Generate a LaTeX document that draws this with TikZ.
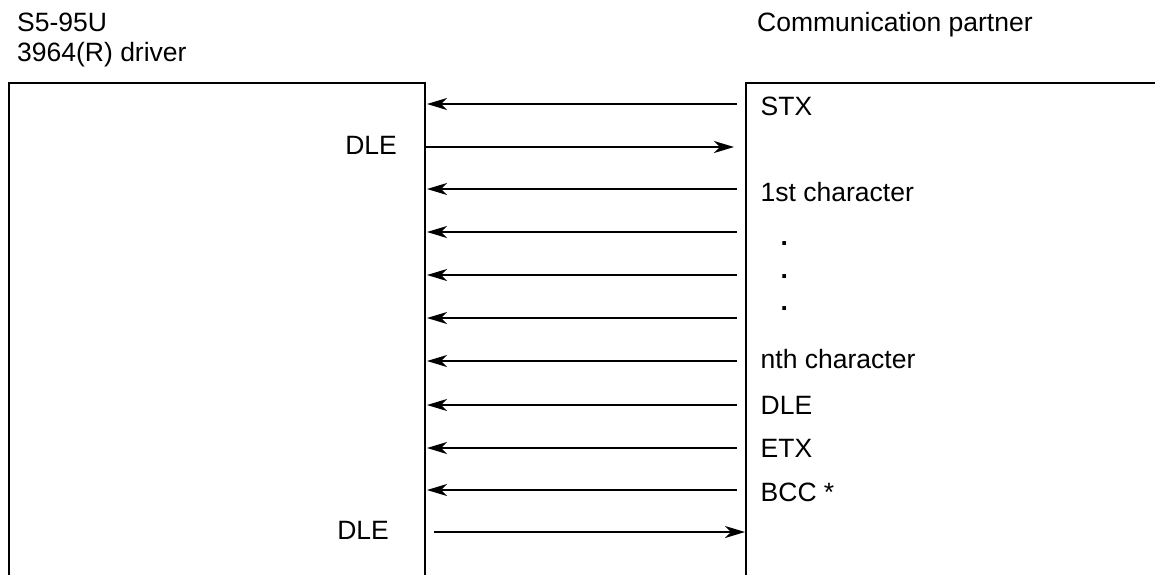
\documentclass[tikz,border=0pt]{standalone}
\usepackage{fontspec}
\setmainfont{Liberation Sans}
\usetikzlibrary{arrows.meta}
\begin{document}
\begin{tikzpicture}[x=1pt,y=-1pt,
  box/.style={line width=2pt,line join=miter},
  msg/.style={line width=1.8pt,-{Stealth[length=20pt,width=12pt,inset=6pt]}},
  lbl/.style={anchor=base west,inner sep=0pt,font=\fontsize{26.5}{30}\selectfont},
  lblr/.style={anchor=base east,inner sep=0pt,font=\fontsize{26.5}{30}\selectfont},
  dot/.style={anchor=base west,inner sep=0pt,font=\fontsize{26.5}{30}\selectfont\bfseries}]
\useasboundingbox (0,0) rectangle (1155,574);
\fill[white] (0,0) rectangle (1155,574);
% boxes
\draw[box] (9,575) -- (9,83) -- (425,83) -- (425,575);
\draw[box] (746,575) -- (746,83) -- (1156,83);
% headers
\node[lbl] (s5) at (17,31.7) {S5-95U};
\node[lbl] (drv) at (17,61.7) {3964(R) driver};
\node[lbl] (cp) at (757,31.7) {Communication partner};
% right labels
\node[lbl] (stx) at (760.5,115) {STX};
\node[lbl] (c1) at (760.5,201.7) {1st character};
\node[dot] (d1) at (780.5,245) {.};
\node[dot] (d2) at (780.5,278) {.};
\node[dot] (d3) at (780.5,310) {.};
\node[lbl] (cn) at (760.5,368.3) {nth character};
\node[lbl] (dle2) at (760.5,414) {DLE};
\node[lbl] (etx) at (760.5,457.7) {ETX};
\node[lbl] (bcc) at (760.5,501) {BCC *};
% left labels
\node[lblr] (dle1) at (397,154.3) {DLE};
\node[lblr] (dle3) at (389,539.3) {DLE};
% arrow end points
\foreach \n/\y in {1/104,3/189,4/232,5/275,6/318,7/361,8/405,9/448,10/490}{
  \coordinate (R\n) at (737,\y);
  \coordinate (L\n) at (427,\y);
}
\coordinate (L2) at (425,147);
\coordinate (R2) at (734,147);
\coordinate (L11) at (434,532);
\coordinate (R11) at (745,532);
% messages
\foreach \n in {1,3,4,5,6,7,8,9,10}{
  \draw[msg] (R\n) -- (L\n);
}
\draw[msg] (L2) -- (R2);
\draw[msg] (L11) -- (R11);
\end{tikzpicture}
\end{document}
